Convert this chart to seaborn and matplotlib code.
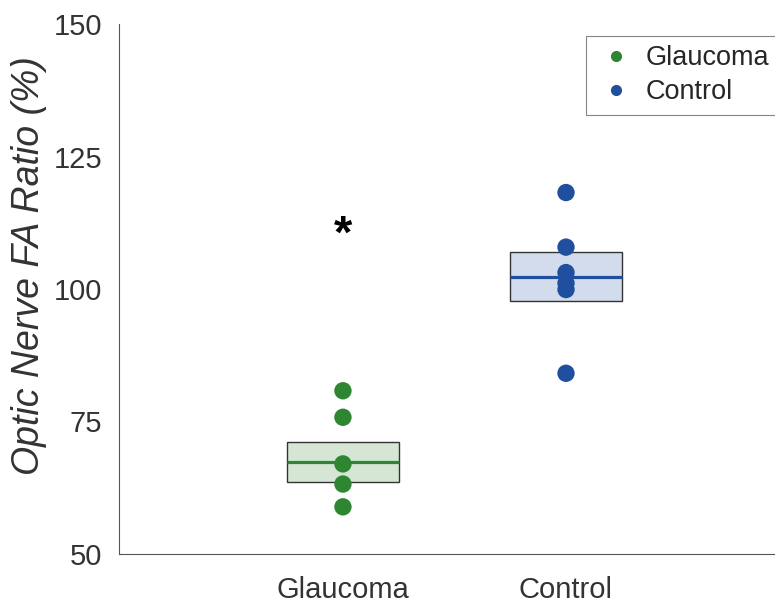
import numpy as np
import pandas as pd
import seaborn as sns
import matplotlib.pyplot as plt

# values
groups = ['Glaucoma', 'Control']
glaucoma_vals = [80.8, 75.8, 67.0, 63.2, 58.9]
control_vals = [118.2, 107.9, 103.1, 101.1, 99.9, 84.1]
group_means = [67.4, 102.3]
group_sem = [3.75, 4.6]
star_y = 111.0

colors = {'Glaucoma': '#2e8630', 'Control': '#1f4f9e'}
fills = {'Glaucoma': '#d5e6d5', 'Control': '#d3dcec'}

df = pd.DataFrame({
    'group': ['Glaucoma'] * len(glaucoma_vals) + ['Control'] * len(control_vals),
    'value': glaucoma_vals + control_vals,
})

sns.set_style('white')
plt.rcParams['font.family'] = ['Liberation Sans', 'DejaVu Sans']

fig = plt.figure(figsize=(7.75, 6.04), dpi=100)
ax = fig.add_axes([119 / 775, 50 / 604, 656 / 775, 530 / 604])

# mean +/- sem boxes
for i, g in enumerate(groups):
    ax.bar(i, 2 * group_sem[i], bottom=group_means[i] - group_sem[i], width=0.5,
           color=fills[g], edgecolor='#333333', linewidth=1.0, zorder=1)
    ax.hlines(group_means[i], i - 0.25, i + 0.25, color=colors[g], linewidth=2.3, zorder=2)

sns.stripplot(data=df, x='group', y='value', hue='group', order=groups,
              palette=colors, jitter=False, size=12.5, ax=ax, legend=False, zorder=3)

ax.text(0, star_y, '*', ha='center', va='center_baseline', fontsize=34,
        fontweight='bold', color='black')

ax.set_ylim(50, 150)
ax.set_yticks([50, 75, 100, 125, 150])
ax.set_xlim(-1.004, 1.937)
ax.set_xlabel('')
ax.set_ylabel('Optic Nerve FA Ratio (%)', fontsize=27, style='italic', color='#333333')
ax.yaxis.set_label_coords(-0.11, 0.545)
ax.tick_params(axis='both', labelsize=21, colors='#333333', direction='out', length=6, width=0.8)
ax.tick_params(axis='x', length=5, pad=11)
ax.tick_params(axis='y', pad=6)
for s in ['top', 'right']:
    ax.spines[s].set_visible(False)
for s in ['left', 'bottom']:
    ax.spines[s].set_color('#555555')
    ax.spines[s].set_linewidth(0.8)

handles = [plt.Line2D([], [], marker='o', linestyle='', color=colors[g], markersize=7) for g in groups]
leg = fig.legend(handles, groups, loc='upper left', bbox_to_anchor=(586 / 775, 1 - 36 / 604),
                 borderaxespad=0, fontsize=19.5, frameon=True, fancybox=False, handletextpad=0.35,
                 borderpad=0.35, labelspacing=0.28, handlelength=1.5)
leg.get_frame().set_edgecolor('#666666')
leg.get_frame().set_linewidth(0.8)

fig.savefig('out.png', dpi=100)
